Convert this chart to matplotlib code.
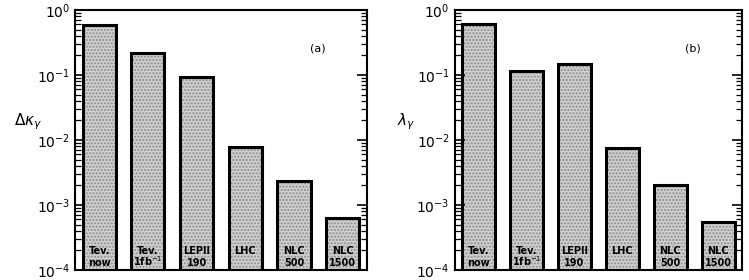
import numpy as np
import matplotlib.pyplot as plt
from matplotlib.ticker import LogLocator, FixedLocator

# bar labels (machines, two lines) and sensitivities
top_lab = ['Tev.', 'Tev.', 'LEPII', 'LHC', 'NLC', 'NLC']
bot_lab = ['now', '1fb$^{-1}$', '190', '', '500', '1500']
dkappa = [0.59, 0.22, 0.092, 0.0077, 0.0022, 0.00054]
lam = [0.60, 0.116, 0.147, 0.0073, 0.0019, 0.00044]

fig = plt.figure(figsize=(7.49, 2.8), dpi=100)
axa = fig.add_axes([0.100, 0.036, 0.390, 0.928])
axb = fig.add_axes([0.607, 0.036, 0.384, 0.928])


def panel(ax, vals, ylab, tag, labx):
    x = np.arange(len(vals))
    # stippled fill, then black outline on top
    ax.bar(x, vals, width=0.68, bottom=1e-4, color='#cfcfcf', edgecolor='#8c8c8c',
           hatch='.....', linewidth=0)
    ax.bar(x, vals, width=0.68, bottom=1e-4, fill=False, edgecolor='black', linewidth=2.2)
    tr = ax.get_xaxis_transform()
    for xi, t, b in zip(x, top_lab, bot_lab):
        ax.text(xi, 0.062, t, transform=tr, ha='center', va='baseline',
                fontsize=7, fontweight='bold')
        ax.text(xi, 0.014, b, transform=tr, ha='center', va='baseline',
                fontsize=7, fontweight='bold')
    ax.set_yscale('log')
    ax.set_ylim(1e-4, 1)
    ax.set_xlim(-0.5, 5.5)
    ax.set_xticks([])
    ax.yaxis.set_major_locator(FixedLocator([1e-4, 1e-3, 1e-2, 1e-1, 1]))
    ax.yaxis.set_minor_locator(LogLocator(base=10, subs=np.arange(2, 10)))
    ax.tick_params(axis='y', which='major', direction='in', length=7, width=1.2,
                   left=True, right=True, labelsize=10)
    ax.tick_params(axis='y', which='minor', direction='in', length=4, width=0.9,
                   left=True, right=True)
    ax.tick_params(axis='x', which='both', bottom=False, top=False)
    for s in ax.spines.values():
        s.set_linewidth(1.5)
    ax.set_ylabel(ylab, rotation=0, fontsize=11, va='center', ha='center')
    ax.yaxis.set_label_coords(labx, 0.57)
    ax.text(0.83, 0.84, tag, transform=ax.transAxes, fontsize=8, ha='center')


panel(axa, dkappa, r'$\Delta\kappa_\gamma$', '(a)', -0.16)
panel(axb, lam, r'$\lambda_\gamma$', '(b)', -0.17)

plt.savefig('out.png', dpi=100)
